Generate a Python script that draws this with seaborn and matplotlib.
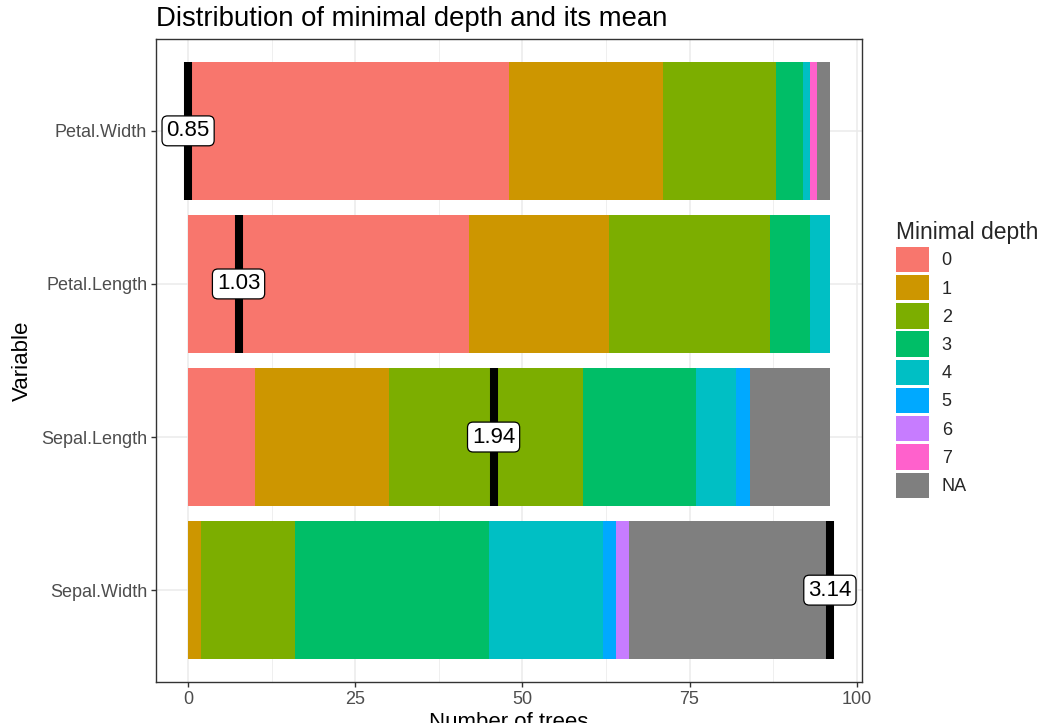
import numpy as np
import pandas as pd
import matplotlib
matplotlib.use("Agg")
import matplotlib.pyplot as plt
import seaborn as sns
from matplotlib.patches import Patch
from matplotlib.ticker import MultipleLocator

# ---------------- data ----------------
variables = ["Petal.Width", "Petal.Length", "Sepal.Length", "Sepal.Width"]
depth_levels = ["0", "1", "2", "3", "4", "5", "6", "7", "NA"]
counts_petal_width = [48, 23, 17, 4, 1, 0, 0, 1, 2]
counts_petal_length = [42, 21, 24, 6, 3, 0, 0, 0, 0]
counts_sepal_length = [10, 20, 29, 17, 6, 2, 0, 0, 12]
counts_sepal_width = [0, 2, 14, 29, 17, 2, 2, 0, 30]
mean_depth = [0.85, 1.03, 1.94, 3.14]
depth_colors = ["#F8766D", "#CD9600", "#7CAE00", "#00BE67", "#00BFC4",
                "#00A9FF", "#C77CFF", "#FF61CC", "#7F7F7F"]

counts = {
    "Petal.Width": counts_petal_width,
    "Petal.Length": counts_petal_length,
    "Sepal.Length": counts_sepal_length,
    "Sepal.Width": counts_sepal_width,
}

rows = []
for v in variables:
    cum = np.cumsum(counts[v])
    for lvl, c, cs in zip(depth_levels, counts[v], cum):
        rows.append({"variable": v, "depth": lvl, "count": c, "cum": cs})
df = pd.DataFrame(rows)

# ---------------- style ----------------
sns.set_theme(style="white")
plt.rcParams["font.family"] = ["Liberation Sans", "DejaVu Sans"]

fig = plt.figure(figsize=(10.43, 7.23), dpi=100)
ax = fig.add_axes([156 / 1043, 1 - 682 / 723, (862 - 156) / 1043, (682 - 39) / 723])

# stacked bars: draw cumulative totals from last level to first
for lvl, col in reversed(list(zip(depth_levels, depth_colors))):
    sub = df[df["depth"] == lvl]
    sns.barplot(data=sub, x="cum", y="variable", order=variables, orient="h",
                width=0.9, color=col, saturation=1, errorbar=None,
                edgecolor="none", linewidth=0, ax=ax)

# mean minimal depth markers (rescaled onto the tree-count axis)
total_trees = max(sum(counts[v]) for v in variables)
m = np.array(mean_depth)
pos = (m - m.min()) / (m.max() - m.min()) * total_trees
ypos = np.arange(len(variables))
ax.vlines(pos, ypos - 0.45, ypos + 0.45, color="black", linewidth=5.8,
          capstyle="butt", zorder=5)
for x, y, val in zip(pos, ypos, mean_depth):
    ax.text(x, y, f"{val:.2f}", ha="center", va="center", fontsize=16,
            color="black", zorder=6,
            bbox=dict(boxstyle="round,pad=0.2,rounding_size=0.25",
                      fc="white", ec="black", lw=0.9))

# axes
ax.set_xlim(-4.8, 100.8)
ax.set_ylim(3.6, -0.6)
ax.xaxis.set_major_locator(MultipleLocator(25))
ax.xaxis.set_minor_locator(MultipleLocator(12.5))
ax.set_axisbelow(True)
ax.grid(which="major", axis="both", color="#EBEBEB", linewidth=1.1)
ax.grid(which="minor", axis="x", color="#EBEBEB", linewidth=0.55)
ax.set_facecolor("white")
for s in ax.spines.values():
    s.set_color("#333333")
    s.set_linewidth(1.0)
ax.tick_params(axis="both", which="major", length=3.8, width=1.0,
               color="#333333", labelcolor="#4D4D4D", labelsize=13, pad=2.5)
ax.tick_params(axis="x", which="minor", length=0)
ax.tick_params(left=True, bottom=True)
ax.set_xlabel("Number of trees", fontsize=16, color="black", labelpad=3)
ax.set_ylabel("Variable", fontsize=16, color="black", labelpad=6)
ax.set_title("Distribution of minimal depth and its mean", loc="left",
             fontsize=19.8, color="black", pad=9)

handles = [Patch(facecolor=c, edgecolor="none", label=l)
           for l, c in zip(depth_levels, depth_colors)]
fig.legend(handles=handles, title="Minimal depth", loc="upper left",
           bbox_to_anchor=(896 / 1043, 1 - 221 / 723), frameon=False,
           fontsize=13, title_fontsize=16.5, handlelength=1.83,
           handleheight=1.78, labelspacing=0.16, handletextpad=0.7,
           borderaxespad=0, borderpad=0, alignment="left")

fig.savefig("out.png", dpi=100)
